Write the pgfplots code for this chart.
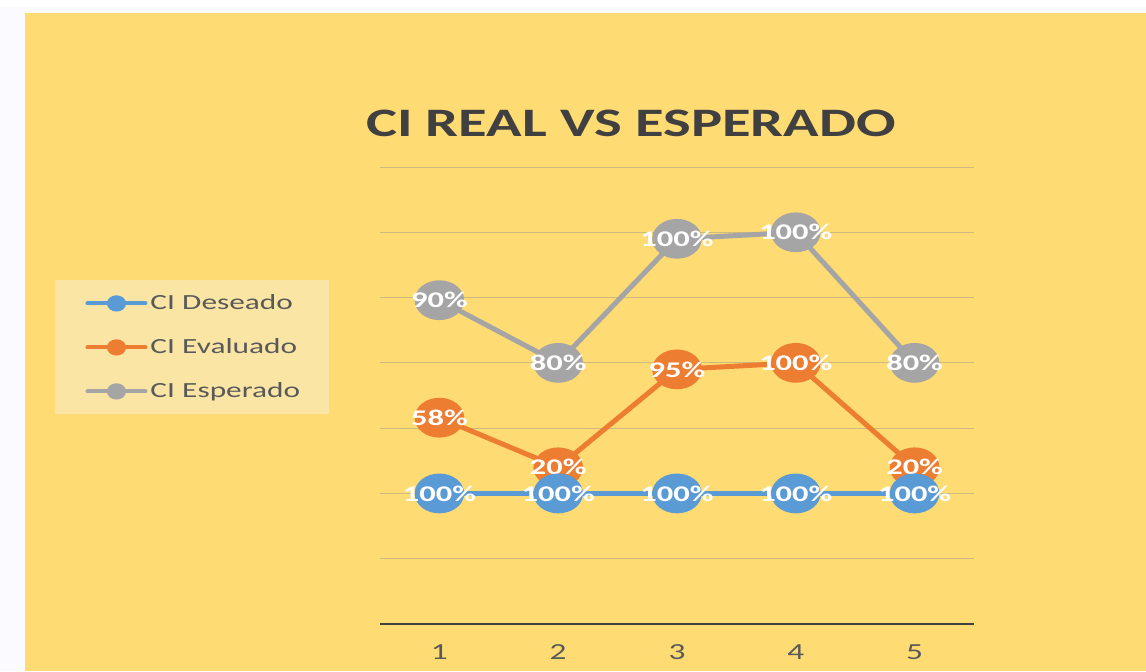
\documentclass[border=0pt]{standalone}
\usepackage{pgfplots}
\pgfplotsset{compat=1.18}
\usepackage{fontspec}
\setmainfont{Carlito}[FakeStretch=1.45]
\definecolor{bgY}{RGB}{255,219,116}
\definecolor{legY}{RGB}{250,229,164}
\definecolor{sBlue}{RGB}{91,155,213}
\definecolor{sOrange}{RGB}{237,125,49}
\definecolor{sGray}{RGB}{165,165,165}
\definecolor{txtG}{RGB}{89,89,89}
\definecolor{ttlG}{RGB}{64,64,64}
\definecolor{gridC}{RGB}{204,186,126}
\hbadness=10000 \hfuzz=100pt
\begin{document}
\begin{tikzpicture}[x=1pt,y=1pt]
\fill[white] (0,0) rectangle (573,335.5);
\fill[blue!2] (0,0) rectangle (573,332);
\fill[bgY] (12.5,0) rectangle (573,329);
\node[font=\fontsize{20.2}{23}\selectfont\bfseries, text=ttlG] at (315.5,274) {CI REAL VS ESPERADO};
\begin{axis}[
  at={(190pt,23.5pt)}, anchor=south west,
  scale only axis, width=297pt, height=228.5pt,
  xmin=0.5, xmax=5.5, ymin=0, ymax=3.5,
  xtick={1,2,3,4,5}, ytick={0,0.5,...,3.5},
  yticklabels={},
  major tick length=0pt,
  axis x line*=bottom, axis y line*=left,
  y axis line style={draw=none},
  x axis line style={draw=ttlG, line width=0.8pt, -},
  ymajorgrids, grid style={gridC, line width=0.5pt},
  /pgf/number format/assume math mode=true,
  xticklabel style={font=\fontsize{11.5}{13}\selectfont, text=txtG, yshift=-7pt},
  stack plots=y,
  point meta=explicit symbolic,
  nodes near coords={\pgfplotspointmeta},
  every node near coord/.append style={anchor=center, text=white, font=\fontsize{11.2}{12}\selectfont\bfseries},
  legend style={at={(-0.547,0.7527)}, anchor=north west, fill=legY, draw=none,
    font=\fontsize{10.8}{13}\selectfont, text=txtG, row sep=9pt, inner xsep=15pt, inner ysep=5pt,
    nodes={text width=73pt, align=left, inner xsep=1.5pt}},
  legend cell align=left,
  legend image code/.code={\draw[line width=2pt, line cap=round] (0,0) -- (29pt,0); \fill (14.5pt,0) ellipse [x radius=3.5pt, y radius=2.8pt];},
  clip=false,
]
\addplot[sBlue, line width=2.5pt, mark=*, mark size=8.7pt, mark options={fill=sBlue, draw=sBlue, xscale=1.28}]
  coordinates {(1,1) [100\%] (2,1) [100\%] (3,1) [100\%] (4,1) [100\%] (5,1) [100\%]};
\addlegendentry{\mbox{CI Deseado}}
\addplot[sOrange, line width=2.5pt, mark=*, mark size=8.7pt, mark options={fill=sOrange, draw=sOrange, xscale=1.28}]
  coordinates {(1,0.58) [58\%] (2,0.2) [20\%] (3,0.95) [95\%] (4,1.0) [100\%] (5,0.2) [20\%]};
\addlegendentry{\mbox{CI Evaluado}}
\addplot[sGray, line width=2.5pt, mark=*, mark size=8.7pt, mark options={fill=sGray, draw=sGray, xscale=1.28}]
  coordinates {(1,0.9) [90\%] (2,0.8) [80\%] (3,1.0) [100\%] (4,1.0) [100\%] (5,0.8) [80\%]};
\addlegendentry{\mbox{CI Esperado}}
\end{axis}
\end{tikzpicture}
\end{document}
